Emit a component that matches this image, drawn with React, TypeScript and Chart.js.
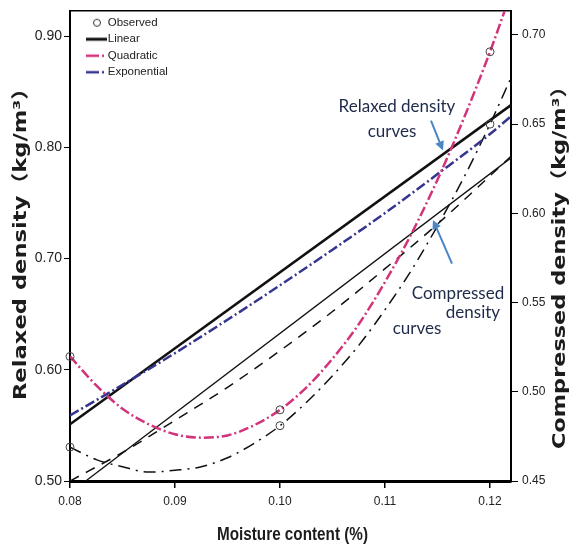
import React, { useEffect, useRef } from "react";
import { Chart, registerables } from "chart.js";

Chart.register(...registerables);

// ---------- data ----------
const xTicks = [0.08, 0.09, 0.1, 0.11, 0.12];
const relaxedTicks = [0.5, 0.6, 0.7, 0.8, 0.9];
const compressedTicks = [0.45, 0.5, 0.55, 0.6, 0.65, 0.7];

const observedX = [0.08, 0.1, 0.12];
const relaxedObserved = [0.612, 0.564, 0.886];
const compressedObserved = [0.469, 0.481, 0.65];

const linearX = [0.08, 0.122];
const relaxedLinear = [0.551, 0.838];
const compressedLinear = [0.4433, 0.6311];

const quadraticX = [0.08, 0.0825, 0.085, 0.0875, 0.09, 0.0925, 0.095, 0.0975, 0.1, 0.1025, 0.105, 0.1075, 0.11, 0.1125, 0.115, 0.1175, 0.12, 0.122];
const relaxedQuadratic = [0.612, 0.586, 0.565, 0.551, 0.542, 0.539, 0.541, 0.55, 0.564, 0.584, 0.61, 0.641, 0.679, 0.722, 0.771, 0.826, 0.886, 0.939];
const compressedQuadratic = [0.469, 0.462, 0.458, 0.455, 0.456, 0.458, 0.463, 0.471, 0.481, 0.494, 0.509, 0.526, 0.546, 0.568, 0.593, 0.62, 0.65, 0.676];

const exponentialX = [0.08, 0.085, 0.09, 0.095, 0.1, 0.105, 0.11, 0.115, 0.12, 0.122];
const relaxedExponential = [0.559, 0.5865, 0.615, 0.645, 0.676, 0.708, 0.741, 0.776, 0.812, 0.828];
const compressedExponential = [0.45, 0.466, 0.484, 0.5025, 0.523, 0.545, 0.569, 0.594, 0.621, 0.632];

const legendLabels = ["Observed", "Linear", "Quadratic", "Exponential"];

const xTitle = "Moisture content (%)";
const leftTitle = "Relaxed density（kg/m³）";
const rightTitle = "Compressed density（kg/m³）";

// annotation texts, placed in data coordinates (x, relaxed-density axis)
const annotationTexts = [
  { text: "Relaxed density", x: 0.11114, y: 0.8366 },
  { text: "curves", x: 0.11067, y: 0.8143 },
  { text: "Compressed", x: 0.11695, y: 0.66875 },
  { text: "density", x: 0.11838, y: 0.65179 },
  { text: "curves", x: 0.11305, y: 0.6375 },
];
const annotationArrows = [
  { from: [0.11438, 0.82411], to: [0.11552, 0.79732] },
  { from: [0.11638, 0.69554], to: [0.11457, 0.73482] },
];

// ---------- styles ----------
const PINK = "#d2337a";
const NAVY = "#35358f";
const BLACK = "#111111";
const TEXT = "#222222";
const TITLE_COLOR = "#1c1c1c";
const ARROW = "#4a86c5";
const NOTE = "#1e2a4a";
const SANS = "'Liberation Sans', Arial, sans-serif";

const pts = (xs: number[], ys: number[]) => xs.map((x, i) => ({ x, y: ys[i] }));

function swatch(draw: (g: CanvasRenderingContext2D) => void) {
  const c = document.createElement("canvas");
  c.width = 37;
  c.height = 12;
  const g = c.getContext("2d")!;
  draw(g);
  return c;
}

function drawStretched(
  ctx: CanvasRenderingContext2D,
  text: string,
  cx: number,
  cy: number,
  rot: number,
  font: string,
  length: number
) {
  ctx.save();
  ctx.font = font;
  const w = ctx.measureText(text).width;
  ctx.translate(cx, cy);
  ctx.rotate(rot);
  ctx.scale(length / w, 1);
  ctx.textAlign = "center";
  ctx.textBaseline = "middle";
  ctx.fillStyle = TITLE_COLOR;
  ctx.fillText(text, 0, 0);
  ctx.restore();
}

const axisTitlePlugin = {
  id: "axisTitles",
  afterDraw(chart: any) {
    const { ctx, chartArea, width, height } = chart;
    const midY = (chartArea.top + chartArea.bottom) / 2;
    drawStretched(ctx, xTitle, (chartArea.left + chartArea.right) / 2 + 2, height - 12, 0,
      "bold 19px 'Liberation Sans', Arial, sans-serif", 151);
    drawStretched(ctx, leftTitle, 21.5, midY - 7.5, -Math.PI / 2,
      "bold 17.5px 'DejaVu Sans', 'Noto Sans CJK SC', sans-serif", 323);
    drawStretched(ctx, rightTitle, width - 8, midY + 16, -Math.PI / 2,
      "bold 17px 'DejaVu Sans', 'Noto Sans CJK SC', sans-serif", 374);
  },
};

const annotationPlugin = {
  id: "curveNotes",
  afterDatasetsDraw(chart: any) {
    const { ctx, scales } = chart;
    const sx = scales.x;
    const sy = scales.y;
    ctx.save();
    ctx.fillStyle = NOTE;
    ctx.font = "17px Lato, 'Open Sans', sans-serif";
    ctx.textAlign = "center";
    ctx.textBaseline = "middle";
    for (const a of annotationTexts) {
      ctx.fillText(a.text, sx.getPixelForValue(a.x), sy.getPixelForValue(a.y));
    }
    ctx.strokeStyle = ARROW;
    ctx.fillStyle = ARROW;
    ctx.lineWidth = 2;
    for (const a of annotationArrows) {
      const x1 = sx.getPixelForValue(a.from[0]);
      const y1 = sy.getPixelForValue(a.from[1]);
      const x2 = sx.getPixelForValue(a.to[0]);
      const y2 = sy.getPixelForValue(a.to[1]);
      const ang = Math.atan2(y2 - y1, x2 - x1);
      const hl = 9;
      const hw = 4.5;
      const bx = x2 - hl * Math.cos(ang);
      const by = y2 - hl * Math.sin(ang);
      ctx.beginPath();
      ctx.moveTo(x1, y1);
      ctx.lineTo(bx, by);
      ctx.stroke();
      ctx.beginPath();
      ctx.moveTo(x2, y2);
      ctx.lineTo(bx + hw * Math.sin(ang), by - hw * Math.cos(ang));
      ctx.lineTo(bx - hw * Math.sin(ang), by + hw * Math.cos(ang));
      ctx.closePath();
      ctx.fill();
    }
    ctx.restore();
  },
};

export default function App() {
  const ref = useRef<HTMLCanvasElement>(null);

  useEffect(() => {
    const swatches = [
      swatch((g) => {
        g.strokeStyle = "#333";
        g.lineWidth = 1;
        g.beginPath();
        g.arc(27, 6, 3.5, 0, Math.PI * 2);
        g.stroke();
      }),
      swatch((g) => {
        g.strokeStyle = BLACK;
        g.lineWidth = 3;
        g.beginPath();
        g.moveTo(16, 6);
        g.lineTo(37, 6);
        g.stroke();
      }),
      swatch((g) => {
        g.strokeStyle = PINK;
        g.lineWidth = 2.5;
        g.setLineDash([13, 3, 2, 3]);
        g.beginPath();
        g.moveTo(16, 6);
        g.lineTo(37, 6);
        g.stroke();
      }),
      swatch((g) => {
        g.strokeStyle = NAVY;
        g.lineWidth = 2.5;
        g.setLineDash([13, 3, 2, 3]);
        g.beginPath();
        g.moveTo(16, 6);
        g.lineTo(37, 6);
        g.stroke();
      }),
    ];

    const lineDs = (label: string, data: any[], color: string, width: number, dash: number[], axis: string) => ({
      type: "line" as const,
      label,
      data,
      yAxisID: axis,
      borderColor: color,
      borderWidth: width,
      borderDash: dash,
      pointRadius: 0,
      fill: false,
      cubicInterpolationMode: "monotone" as const,
    });

    const obsDs = (label: string, data: any[], axis: string) => ({
      type: "scatter" as const,
      label,
      data,
      yAxisID: axis,
      pointStyle: "circle",
      pointRadius: 4,
      pointBorderWidth: 1,
      pointBorderColor: "#444",
      pointBackgroundColor: "rgba(0,0,0,0)",
      borderColor: "#444",
      backgroundColor: "rgba(0,0,0,0)",
      showLine: false,
      clip: false,
    });

    const chart = new Chart(ref.current!, {
      type: "line",
      data: {
        datasets: [
          obsDs("Relaxed observed", pts(observedX, relaxedObserved), "y"),
          obsDs("Compressed observed", pts(observedX, compressedObserved), "y1"),
          lineDs("Relaxed quadratic", pts(quadraticX, relaxedQuadratic), PINK, 2.5, [10, 3, 2, 3], "y"),
          lineDs("Relaxed exponential", pts(exponentialX, relaxedExponential), NAVY, 2.5, [10, 3, 2, 3], "y"),
          lineDs("Relaxed linear", pts(linearX, relaxedLinear), BLACK, 2.6, [], "y"),
          lineDs("Compressed linear", pts(linearX, compressedLinear), BLACK, 1.3, [], "y1"),
          lineDs("Compressed quadratic", pts(quadraticX, compressedQuadratic), BLACK, 1.5, [12, 6, 2, 6], "y1"),
          lineDs("Compressed exponential", pts(exponentialX, compressedExponential), BLACK, 1.5, [10, 8], "y1"),
        ] as any,
      },
      options: {
        animation: false,
        responsive: false,
        devicePixelRatio: 1,
        layout: { padding: { top: 7, left: 0, right: 0, bottom: 0 } },
        plugins: {
          tooltip: { enabled: false },
          legend: {
            position: "chartArea",
            align: "start",
            title: { display: true, text: "", font: { size: 10, lineHeight: 1 }, padding: { top: 1, bottom: 1 } },
            labels: {
              usePointStyle: true,
              pointStyleWidth: 27,
              boxHeight: 10,
              padding: 5,
              color: TEXT,
              font: { family: SANS, size: 11.5, lineHeight: 1.2 },
              generateLabels: () =>
                legendLabels.map((text, i) => ({
                  text,
                  pointStyle: swatches[i] as any,
                  fillStyle: "rgba(0,0,0,0)",
                  strokeStyle: "rgba(0,0,0,0)",
                  lineWidth: 0,
                  hidden: false,
                  datasetIndex: i,
                  fontColor: TEXT,
                })),
            },
          } as any,
        },
        scales: {
          x: {
            type: "linear",
            position: "bottom",
            min: 0.08,
            max: 0.122,
            afterBuildTicks: (s: any) => {
              s.ticks = xTicks.map((value) => ({ value }));
            },
            afterFit: (s: any) => {
              s.height = 66;
            },
            grid: { display: true, drawOnChartArea: false, drawTicks: true, tickLength: 7, color: "#000", lineWidth: 1.5 },
            border: { display: true, color: "#000", width: 3 },
            ticks: {
              padding: 6,
              color: TEXT,
              font: { family: SANS, size: 12 },
              maxRotation: 0,
              autoSkip: false,
              callback: (v: any) => Number(v).toFixed(2),
            },
            title: { display: false, text: xTitle },
          },
          xTop: {
            type: "linear",
            position: "top",
            min: 0.08,
            max: 0.122,
            display: true,
            ticks: { display: false },
            grid: { display: false, drawTicks: false },
            border: { display: true, color: "#000", width: 1.5 },
            afterFit: (s: any) => {
              s.height = 0;
            },
          },
          y: {
            type: "linear",
            position: "left",
            min: 0.5,
            max: 0.9225,
            afterBuildTicks: (s: any) => {
              s.ticks = relaxedTicks.map((value) => ({ value }));
            },
            afterFit: (s: any) => {
              s.width = 70;
            },
            grid: { display: true, drawOnChartArea: false, drawTicks: true, tickLength: 6, color: "#000", lineWidth: 1 },
            border: { display: true, color: "#000", width: 2 },
            ticks: {
              padding: 2,
              color: TEXT,
              font: { family: SANS, size: 14 },
              callback: (v: any) => Number(v).toFixed(2),
            },
            title: { display: false, text: leftTitle },
          },
          y1: {
            type: "linear",
            position: "right",
            min: 0.45,
            max: 0.7133,
            afterBuildTicks: (s: any) => {
              s.ticks = compressedTicks.map((value) => ({ value }));
            },
            afterFit: (s: any) => {
              s.width = 58;
            },
            grid: { display: true, drawOnChartArea: false, drawTicks: true, tickLength: 7, color: "#000", lineWidth: 1 },
            border: { display: true, color: "#000", width: 2 },
            ticks: {
              padding: 4,
              color: TEXT,
              font: { family: SANS, size: 12 },
              callback: (v: any) => Number(v).toFixed(2),
            },
            title: { display: false, text: rightTitle },
          },
        },
      } as any,
      plugins: [annotationPlugin, axisTitlePlugin],
    });
    return () => chart.destroy();
  }, []);

  return (
    <div style={{ position: "absolute", left: 0, top: 0, width: 569, height: 547, background: "#fff" }}>
      <canvas ref={ref} width={569} height={547} style={{ display: "block", width: 569, height: 547 }} />
    </div>
  );
}
